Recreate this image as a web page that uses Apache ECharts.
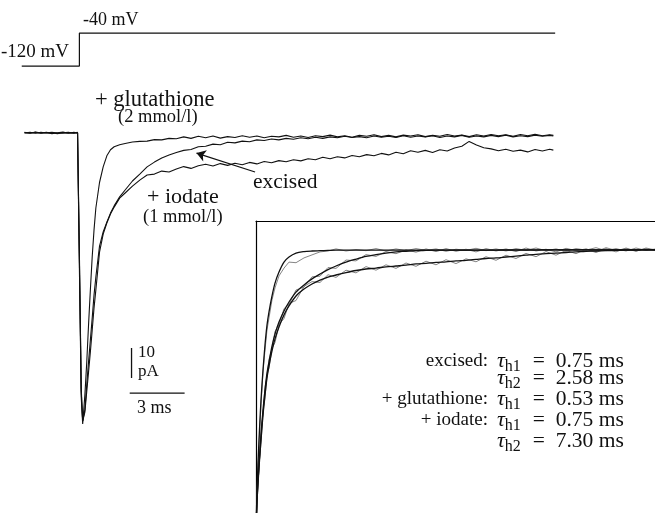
<!DOCTYPE html>
<html><head><meta charset="utf-8">
<script src="https://cdn.jsdelivr.net/npm/echarts@6/dist/echarts.min.js"></script>
<style>html,body{margin:0;padding:0;background:#fff}#c{width:655px;height:513px}</style>
</head><body><div id="c"></div>
<script>
// ---- voltage protocol (ms, mV)
const stepTime = [-3.05, 0.1, 0.1, 26.1];
const stepVolt = [-120, -120, -40, -40];

// ---- main current traces (ms, pA)
const mainTime = [-2.9,-2.6,-2.3,-2.0,-1.7,-1.4,-1.1,-0.8,-0.5,-0.2,0.0,
  0.1,0.2,0.28,
  0.4,0.5,0.6,0.7,0.8,0.9,1.0,1.2,1.4,1.6,1.8,2.0,2.3,2.6,3.0,3.4,3.8,4.2,4.6,5.0,
  5.4,5.8,6.2,6.6,7.0,7.4,7.8,8.2,8.6,9.0,9.4,9.8,10.2,10.6,11.0,11.4,11.8,12.2,12.6,13.0,
  13.4,13.8,14.2,14.6,15.0,15.4,15.8,16.2,16.6,17.0,17.4,17.8,18.2,18.6,19.0,19.4,19.8,20.2,
  20.6,21.0,21.4,21.8,22.2,22.6,23.0,23.4,23.8,24.2,24.6,25.0,25.4,25.8,26.0];
const glutathione = [0.2,-0.1,0.3,0.0,0.2,-0.2,0.1,0.3,-0.1,0.2,0.0,
  -45,-88,-97,
  -87.3,-76.7,-64,-52.3,-41.3,-32.3,-25,-16.5,-11.3,-7.6,-5.6,-4.6,-3.9,-3.5,-3,-2.8,-2.7,-2.2,-2.3,-1.8,
  -1.9,-1.3,-1.8,-1.1,-1.6,-1.0,-1.7,-1.2,-1.5,-0.9,-1.4,-1.0,-1.6,-1.1,-1.3,-0.8,-1.4,-1.0,-1.5,-0.9,
  -1.2,-0.7,-1.3,-0.9,-1.4,-0.8,-1.1,-0.6,-1.2,-0.8,-1.3,-0.7,-1.0,-0.6,-1.2,-0.8,-1.1,-0.5,
  -1.0,-0.7,-1.2,-0.6,-1.0,-0.5,-0.9,-0.6,-1.1,-0.5,-0.9,-0.4,-0.9,-0.6,-0.8];
const excised = [0.0,0.2,-0.1,0.2,0.0,0.1,-0.2,0.1,0.2,-0.1,0.1,
  -42,-86,-96,
  -92.3,-84,-76.3,-69,-61.7,-54,-48,-37.7,-33,-29.7,-26.7,-24.3,-21.3,-19,-16,-13.7,-11.3,-9.7,-8.3,-7.3,
  -6.5,-5.8,-5.5,-4.6,-4.4,-3.7,-3.9,-3.1,-3.3,-2.7,-2.9,-2.3,-2.5,-2.0,-2.3,-1.8,-2.1,-1.6,-1.9,-1.4,
  -1.8,-1.3,-1.6,-1.1,-1.5,-1.2,-1.6,-1.0,-1.4,-1.1,-1.5,-0.9,-1.4,-1.0,-1.3,-0.9,-1.5,-1.0,
  -1.3,-0.8,-1.4,-1.0,-1.3,-0.8,-1.2,-0.7,-1.3,-0.9,-1.2,-0.7,-1.1,-0.8,-1.0];
const iodate = [0.1,0.0,0.2,-0.1,0.1,0.2,0.0,-0.1,0.1,0.0,0.2,
  -40,-85,-96,
  -93,-86.3,-79.7,-73,-65.7,-58.3,-52.3,-39.7,-33.7,-30,-27,-24.7,-21.7,-20,-17.7,-15.7,-14,-13.7,-12.7,-13,
  -12.0,-11.2,-11.8,-10.9,-10.4,-11.0,-10.2,-10.8,-10.1,-10.6,-9.8,-10.3,-9.5,-9.9,-9.2,-9.6,-8.9,-9.3,-8.6,-8.9,
  -8.1,-8.6,-7.9,-8.3,-7.5,-7.9,-7.2,-7.6,-6.8,-7.3,-6.4,-6.9,-5.9,-6.4,-5.8,-6.5,-5.6,-6.0,
  -5.0,-4.4,-2.8,-4.0,-4.9,-5.3,-5.9,-5.4,-6.1,-5.7,-6.3,-5.5,-6.0,-5.4,-5.7];

// ---- scale bars and arrow (ms, pA)
const scaleBarCurrent = { t: 2.95, from: -71.7, to: -81.7 };   // 10 pA
const scaleBarTime = { from: 2.85, to: 5.85, at: -86.7 };      // 3 ms
const arrowExcised = [[9.7, -13], [6.5, -6.7]];

// ---- inset: normalised traces and fits
const insetTime = [0.0,0.05,0.15,0.25,0.35,0.45,0.55,0.65,0.8,0.95,1.15,1.4,1.65,2.0,2.4,2.8,3.2,3.6,4.0,
  4.5,5.0,5.5,6.0,6.5,7.0,7.5,8.0,8.5,9.0,9.5,10.0,10.5,11.0,11.5,12.0,12.5,13.0,13.5,14.0,14.5,15.0,
  15.5,16.0,16.5,17.0,17.5,18.0,18.5,19.0,19.5,20.0];
const fitGlutathione = [-95,-80.7,-64.0,-50.7,-40.7,-32.3,-25.7,-21.3,-16.0,-11.7,-8.0,-4.7,-3.0,-1.7,-1.2,-1.0,-0.9,-0.8,-0.7,
  -0.7,-0.7,-0.7,-0.7,-0.7,-0.7,-0.7,-0.7,-0.7,-0.7,-0.7,-0.7,-0.7,-0.7,-0.7,-0.7,-0.6,-0.6,-0.6,-0.6,-0.6,-0.6,
  -0.6,-0.6,-0.6,-0.6,-0.6,-0.6,-0.6,-0.6,-0.6,-0.6];
const fitExcised = [-95,-84,-72.3,-62.3,-54,-47.3,-41.7,-38,-32.7,-28.7,-24.7,-21,-18,-14.7,-12.3,-10.3,-8.7,-7.2,-6,
  -4.7,-3.7,-2.8,-2.2,-1.7,-1.3,-1.1,-0.9,-0.8,-0.7,-0.7,-0.7,-0.7,-0.7,-0.7,-0.7,-0.7,-0.7,-0.7,-0.7,-0.6,-0.6,
  -0.6,-0.6,-0.6,-0.6,-0.6,-0.6,-0.6,-0.6,-0.6,-0.6];
const fitIodate = [-95,-84.7,-73.3,-64,-55.7,-49,-43.3,-39.3,-34.3,-30.3,-26.3,-22.3,-19.3,-16,-13.7,-12,-10.7,-9.7,-9,
  -8.2,-7.5,-7,-6.7,-6.3,-6,-5.7,-5.3,-5.1,-4.8,-4.6,-4.3,-4.1,-3.8,-3.5,-3.3,-3.0,-2.7,-2.4,-2.1,-1.9,-1.7,
  -1.5,-1.3,-1.1,-1.0,-0.9,-0.8,-0.7,-0.7,-0.6,-0.6];
const rawGlutathione = [-95,-81.3,-65.7,-52.3,-41.3,-34,-27.3,-23.3,-17.3,-13.3,-9.3,-6.7,-4.7,-4.9,-3.3,-2.3,-1.3,-1.0,-0.3,
  -1.0,-0.5,-0.9,-0.2,-1.0,-0.3,-0.9,-0.2,-0.8,-0.3,-1.1,-0.4,-0.8,-0.1,-0.9,-0.3,-1.0,-0.2,-0.8,0.0,-0.9,-0.3,
  -1.1,-0.2,-0.7,0.1,-0.9,-0.2,-1.0,0.0,-0.8,-0.3];
const rawExcised = [-95,-83,-73.5,-61,-55,-46.5,-42.5,-37.2,-33.5,-27.8,-25.5,-20.2,-18.8,-14.0,-13.0,-9.6,-9.4,-6.5,-6.8,
  -4.0,-4.3,-2.2,-2.8,-1.2,-1.9,-0.6,-1.4,-0.3,-1.2,-0.2,-1.1,-0.4,-1.3,-0.2,-1.0,-0.3,-1.2,0.0,-1.0,-0.4,-1.3,
  -0.1,-0.9,-0.3,-1.2,0.1,-0.8,-0.2,-1.1,0.0,-0.7];
const rawIodate = [-95,-85.5,-72.5,-65,-55,-50,-42.5,-40,-33.5,-31.5,-25.5,-23.5,-18.5,-17.5,-12.8,-11.2,-11.5,-8.9,-9.8,
  -7.4,-8.3,-6.2,-7.4,-5.6,-6.8,-5.0,-6.1,-4.4,-5.6,-3.9,-5.2,-3.6,-4.6,-2.9,-4.1,-2.4,-3.5,-1.8,-2.9,-1.2,-2.4,
  -0.8,-1.9,-0.4,-1.5,-0.2,-1.3,0.0,-1.0,-0.2,-0.9];

const tauRows = [
  { label: 'excised:', sub: 'h1', value: '0.75 ms' },
  { label: '', sub: 'h2', value: '2.58 ms' },
  { label: '+ glutathione:', sub: 'h1', value: '0.53 ms' },
  { label: '+ iodate:', sub: 'h1', value: '0.75 ms' },
  { label: '', sub: 'h2', value: '7.30 ms' }
];

const zip = (t, v) => t.map((x, i) => [x, v[i]]);
const FONT = '"Liberation Serif", "Times New Roman", serif';
const INK = '#111';

const chart = echarts.init(document.getElementById('c'), null, { renderer: 'canvas' });

function lineSeries(name, xi, data, width, color, opts) {
  return Object.assign({
    name, type: 'line', xAxisIndex: xi, yAxisIndex: xi, data,
    showSymbol: false, symbol: 'none', silent: true, animation: false, clip: true,
    lineStyle: { color: color, width: width }, z: 3
  }, opts || {});
}

const series = [
  lineSeries('step', 0, zip(stepTime, stepVolt), 1.2, INK),
  lineSeries('glutathione', 1, zip(mainTime, glutathione), 1.1, INK),
  lineSeries('excised', 1, zip(mainTime, excised), 1.1, INK),
  lineSeries('iodate', 1, zip(mainTime, iodate), 1.1, INK),
  lineSeries('bar10pA', 1, [[scaleBarCurrent.t, scaleBarCurrent.from], [scaleBarCurrent.t, scaleBarCurrent.to]], 1.3, INK),
  lineSeries('bar3ms', 1, [[scaleBarTime.from, scaleBarTime.at], [scaleBarTime.to, scaleBarTime.at]], 1.3, INK),
  {
    type: 'lines', coordinateSystem: 'cartesian2d', xAxisIndex: 1, yAxisIndex: 1, silent: true, animation: false,
    symbol: ['none', 'arrow'], symbolSize: 9,
    lineStyle: { color: INK, width: 1.2, opacity: 1 },
    data: [{ coords: arrowExcised }]
  },
  lineSeries('rawGlut', 2, zip(insetTime, rawGlutathione), 0.9, '#777'),
  lineSeries('rawExc', 2, zip(insetTime, rawExcised), 0.9, '#777'),
  lineSeries('rawIod', 2, zip(insetTime, rawIodate), 0.9, '#777'),
  lineSeries('fitGlut', 2, zip(insetTime, fitGlutathione), 1.3, INK, { smooth: 0.3 }),
  lineSeries('fitExc', 2, zip(insetTime, fitExcised), 1.3, INK, { smooth: 0.3 }),
  lineSeries('fitIod', 2, zip(insetTime, fitIodate), 1.3, INK, { smooth: 0.3 })
];

const txt = (x, y, s, size, align) => ({
  type: 'text', x, y, silent: true,
  style: { text: s, font: size + 'px ' + FONT, fill: INK, textAlign: align || 'left', textVerticalAlign: 'middle' }
});

const graphics = [
  txt(83, 20, '-40 mV', 18),
  txt(1, 52, '-120 mV', 19),
  txt(95, 100, '+ glutathione', 22.5),
  txt(118, 117, '(2 mmol/l)', 18.5),
  txt(253, 182, 'excised', 21.5),
  txt(147, 197, '+ iodate', 22),
  txt(143, 217, '(1 mmol/l)', 18.5),
  txt(138, 353, '10', 17),
  txt(138, 372, 'pA', 17),
  txt(137, 408, '3 ms', 18)
];
const rowY = [361, 378, 399, 420, 441];
tauRows.forEach((r, i) => {
  if (r.label) graphics.push(txt(488, rowY[i], r.label, 19, 'right'));
  graphics.push({
    type: 'text', x: 497, y: rowY[i], silent: true,
    style: {
      text: '{t|τ}{s|' + r.sub + '}{e|=  ' + r.value + '}',
      fill: INK, textVerticalAlign: 'middle',
      rich: {
        t: { fontFamily: FONT, fontSize: 22, fontStyle: 'italic', fill: INK },
        s: { fontFamily: FONT, fontSize: 16, padding: [12, 0, 0, 0], fill: INK },
        e: { fontFamily: FONT, fontSize: 21.5, padding: [0, 0, 0, 12], fill: INK }
      }
    }
  });
});

const hidden = (min, max, gi) => ({ type: 'value', gridIndex: gi, min, max, show: false });
const frameAxis = (min, max, gi, pos) => ({
  type: 'value', gridIndex: gi, min, max, position: pos,
  axisLine: { show: true, onZero: false, lineStyle: { color: '#000', width: 1.2 } },
  axisTick: { show: false }, axisLabel: { show: false }, splitLine: { show: false }
});

chart.setOption({
  animation: false,
  backgroundColor: '#fff',
  grid: [
    { left: 19, width: 538, top: 28.9, height: 41.25 },
    { left: 19, width: 538, top: 103, height: 330 },
    { left: 256, width: 399, top: 221, height: 292 }
  ],
  xAxis: [hidden(-3.2, 26.2, 0), hidden(-3.2, 26.2, 1), frameAxis(0, 19.95, 2, 'top')],
  yAxis: [hidden(-130, -30, 0), hidden(-100, 10, 1), frameAxis(-88.33, 9, 2, 'left')],
  series,
  graphic: graphics
});
</script></body></html>
